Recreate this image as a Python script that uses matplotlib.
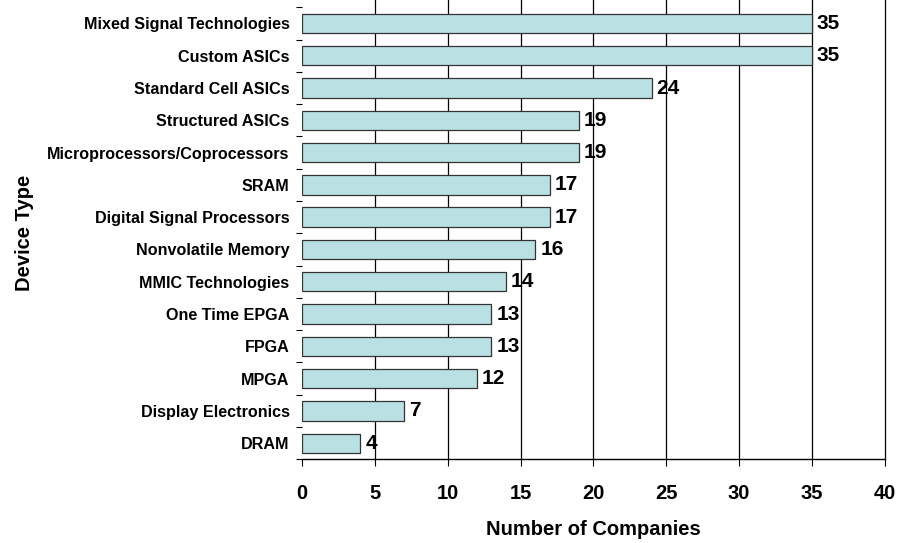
import matplotlib
matplotlib.use("Agg")
import matplotlib.pyplot as plt
import numpy as np
from matplotlib.ticker import MultipleLocator

plt.rcParams['font.family'] = ['Liberation Sans', 'DejaVu Sans']

# data, top to bottom as in the chart
devices = ['Mixed Signal Technologies', 'Custom ASICs', 'Standard Cell ASICs',
           'Structured ASICs', 'Microprocessors/Coprocessors', 'SRAM',
           'Digital Signal Processors', 'Nonvolatile Memory', 'MMIC Technologies',
           'One Time EPGA', 'FPGA', 'MPGA', 'Display Electronics', 'DRAM']
companies = [35, 35, 24, 19, 19, 17, 17, 16, 14, 13, 13, 12, 7, 4]
x_ticks = [0, 5, 10, 15, 20, 25, 30, 35, 40]

fig = plt.figure(figsize=(8.99, 5.43), dpi=100)
ax = fig.add_axes([0.336, 0.154, 0.648, 0.8326])

y = np.arange(len(devices))[::-1]
ax.barh(y, companies, height=0.6, color='#b9e0e3', edgecolor='#333333', linewidth=0.9, zorder=3)

for yi, v in zip(y, companies):
    ax.text(v + 0.35, yi, str(v), va='center', ha='left', fontsize=15, fontweight='bold', zorder=4)

ax.set_xlim(0, 40)
ax.set_ylim(-0.5, len(devices) - 0.5)
ax.set_xticks(x_ticks)
ax.set_xticklabels([str(t) for t in x_ticks], fontsize=14.5, fontweight='bold')
ax.tick_params(axis='x', length=5, width=0.8, pad=13, direction='out')

ax.set_yticks(y)
ax.set_yticklabels(devices, fontsize=11.6, fontweight='bold')
ax.tick_params(axis='y', which='major', length=0, pad=9)
ax.yaxis.set_minor_locator(MultipleLocator(1, offset=0.5))
ax.tick_params(axis='y', which='minor', length=4, width=0.8, direction='out')

# gridlines run past the top of the plot area, as in the source
for xv in x_ticks[1:]:
    ax.axvline(xv, ymin=0, ymax=1.03, color='black', linewidth=0.9, zorder=1, clip_on=False)

for s in ['top', 'right', 'left']:
    ax.spines[s].set_visible(False)
ax.spines['bottom'].set_linewidth(1.0)

ax.set_xlabel('Number of Companies', fontsize=14.5, fontweight='bold', labelpad=12)
ax.set_ylabel('Device Type', fontsize=14.5, fontweight='bold')
ax.yaxis.set_label_coords(-0.46, 0.5)

fig.savefig('out.png', dpi=100)
